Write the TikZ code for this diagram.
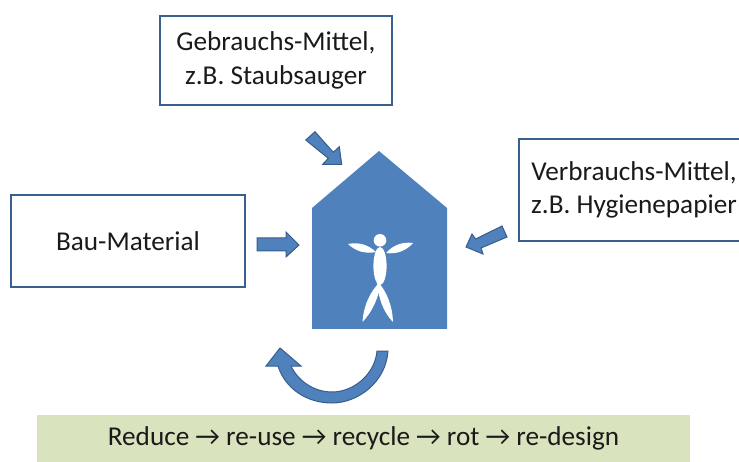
\documentclass[tikz,border=0pt]{standalone}
\usepackage{fontspec}
\setmainfont{Carlito}
\definecolor{boxblue}{HTML}{3A6090}
\definecolor{fillblue}{HTML}{4F81BD}
\definecolor{edgeblue}{HTML}{385D8A}
\definecolor{greenbar}{HTML}{D9E4BE}
\definecolor{inktext}{HTML}{1A1A1A}
\tikzset{
  textbox/.style={draw=boxblue,line width=1.5pt,fill=white,align=center,text=inktext,inner sep=0pt,font=\fontsize{27.2}{33.5}\selectfont},
  housefill/.style={fill=fillblue,draw=none},
  blockarrow/.style={fill=fillblue,draw=edgeblue,line width=1pt,line join=miter},
  limb/.style={fill=white,draw=none},
}
\begin{document}
\begin{tikzpicture}[x=1pt,y=-1pt]
\useasboundingbox (0,0) rectangle (739,462);
% boxes
\node[textbox,minimum width=232pt,minimum height=89pt] (gebrauch) at (276,60.5) {Gebrauchs-Mittel,\\z.B. Staubsauger};
\node[textbox,minimum width=234pt,minimum height=92pt] (bau) at (128,241) {Bau-Material};
\node[textbox,minimum width=230pt,minimum height=102pt] (verbrauch) at (634,190) {Verbrauchs-Mittel,\\z.B. Hygienepapier};
\node[fill=greenbar,minimum width=653pt,minimum height=47pt,inner sep=0pt,text=inktext,font=\fontsize{27.2}{32}\selectfont] (bar) at (363.5,438.5) {Reduce → re-use → recycle → rot → re-design};
% house
\fill[housefill] (312,208) -- (379,151) -- (447,208) -- (447,329) -- (312,329) -- cycle;
% person
\fill[limb] (380,240.3) circle (6.3);
\fill[limb] (380,266) ellipse (6.6 and 19);
\fill[limb] (348,244) .. controls (358.7,241.9) and (368,244.5) .. (376,252) .. controls (365.3,254.1) and (356,251.5) .. (348,244) -- cycle;
\fill[limb] (413,243) .. controls (402.2,241.6) and (393.2,245) .. (386,253) .. controls (396.8,254.4) and (405.8,251) .. (413,243) -- cycle;
\fill[limb] (381,281) .. controls (370,291) and (363.5,306) .. (362.5,322) .. controls (372,312) and (379,298) .. (381,281) -- cycle;
\fill[limb] (377,281) .. controls (378,297) and (383,312) .. (393,322) .. controls (392.6,307) and (387,291) .. (377,281) -- cycle;
% block arrows
\draw[blockarrow] (305.7,140) -- (315,131.7) -- (333.3,152.3) -- (339.3,146.7) -- (341.7,164.3) -- (322.7,164.3) -- (328.3,158.3) -- cycle;
\draw[blockarrow] (257,238) -- (286,238) -- (286,232) -- (299,245) -- (286,257) -- (286,251) -- (257,251) -- cycle;
\draw[blockarrow] (502,226) -- (507,237) -- (481,248) -- (483,254) -- (466,247) -- (472,234) -- (475.6,239) -- cycle;
% curved arrow
\draw[blockarrow] (388,351) .. controls (386,382) and (358,403) .. (332,403)
  .. controls (306,403) and (285,388) .. (278,366) -- (266,366) -- (280,348) -- (301,366) -- (291,366)
  .. controls (298,381) and (314,392) .. (332,392) .. controls (354,392) and (375,374) .. (377,351) -- cycle;
\end{tikzpicture}
\end{document}
